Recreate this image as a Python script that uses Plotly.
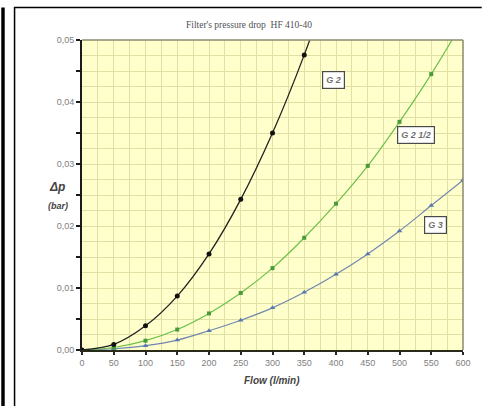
import plotly.graph_objects as go

# Flow rates (l/min) and pressure drop (bar) for the three port sizes
flow_g2 = [0, 50, 100, 150, 200, 250, 300, 350, 400]
dp_g2 = [0.0, 0.0009, 0.0039, 0.0087, 0.0155, 0.0243, 0.0350, 0.0476, 0.0622]

flow_g212 = [0, 50, 100, 150, 200, 250, 300, 350, 400, 450, 500, 550, 600]
dp_g212 = [0.0, 0.0004, 0.0015, 0.0033, 0.0059, 0.0092, 0.0132, 0.0181, 0.0236,
           0.0297, 0.0368, 0.0445, 0.0530]

flow_g3 = [0, 50, 100, 150, 200, 250, 300, 350, 400, 450, 500, 550, 600]
dp_g3 = [0.0, 0.0002, 0.0007, 0.0016, 0.0031, 0.0048, 0.0068, 0.0093, 0.0122,
         0.0155, 0.0192, 0.0233, 0.0274]

x_ticks = list(range(0, 601, 50))
y_tickvals = [0.0, 0.005, 0.01, 0.015, 0.02, 0.025, 0.03, 0.035, 0.04, 0.045, 0.05]
y_ticktext = ["0,00", "", "0,01", "", "0,02", "", "0,03", "", "0,04", "", "0,05"]

series_labels = ["G 2", "G 2 1/2", "G 3"]

W, H = 483, 406
L, R, T, B = 82, 469, 40, 350  # plot area in pixels


def px(x):
    return (x - L) / (R - L)


def py(y):
    return (B - y) / (B - T)


fig = go.Figure()

fig.add_trace(go.Scatter(
    x=flow_g3, y=dp_g3, mode="lines+markers", line_shape="spline",
    line=dict(color="#7088b0", width=1.2),
    marker=dict(symbol="triangle-up", size=5, color="#5a78b0"),
    showlegend=False))
fig.add_trace(go.Scatter(
    x=flow_g212, y=dp_g212, mode="lines+markers", line_shape="spline",
    line=dict(color="#6cc04a", width=1.2),
    marker=dict(symbol="square", size=4, color="#4a9a3a"),
    showlegend=False))
fig.add_trace(go.Scatter(
    x=flow_g2, y=dp_g2, mode="lines+markers", line_shape="spline",
    line=dict(color="#222222", width=1.3),
    marker=dict(symbol="circle", size=5, color="#111111"),
    showlegend=False))

grid = "#e0e0a4"
fig.update_xaxes(
    range=[0, 600], tickvals=x_ticks, ticktext=[str(v) for v in x_ticks],
    showgrid=True, gridcolor=grid, gridwidth=1,
    minor=dict(dtick=25, tick0=0, showgrid=True, gridcolor=grid, ticks=""),
    showline=True, linecolor="#2a2a1a", linewidth=2,
    ticks="outside", ticklen=3, tickcolor="#2a2a1a", tickwidth=2,
    tickfont=dict(family="Liberation Sans", size=9, color="#808080"),
    zeroline=False, fixedrange=True)
fig.update_yaxes(
    range=[0, 0.05], tickvals=y_tickvals, ticktext=y_ticktext,
    showgrid=True, gridcolor=grid, gridwidth=1,
    minor=dict(dtick=0.0025, tick0=0, showgrid=True, gridcolor=grid, ticks=""),
    showline=True, linecolor="#1a1a1a", linewidth=2,
    ticks="outside", ticklen=4, tickcolor="#1a1a1a", tickwidth=1.5,
    tickfont=dict(family="Liberation Sans", size=9, color="#808080"),
    zeroline=False, fixedrange=True)

shapes = [
    # plot area border on top and right
    dict(type="line", xref="paper", yref="paper", x0=0, x1=1, y0=1, y1=1,
         line=dict(color="#8a8a70", width=1.5)),
    dict(type="line", xref="paper", yref="paper", x0=1, x1=1, y0=0, y1=1,
         line=dict(color="#8a8a70", width=1.5)),
    # outer frame
    dict(type="rect", xref="paper", yref="paper", x0=px(0), x1=px(3.5),
         y0=py(H + 5), y1=py(7.5), fillcolor="#000000", line=dict(width=0)),
    dict(type="line", xref="paper", yref="paper", x0=px(13.5), x1=px(13.5),
         y0=py(H + 5), y1=py(7), line=dict(color="#000000", width=1.5)),
    dict(type="line", xref="paper", yref="paper", x0=px(13), x1=px(W + 5),
         y0=py(7.5), y1=py(7.5), line=dict(color="#000000", width=1.5)),
]

annotations = [
    dict(text="Filter's pressure drop  HF 410-40", xref="paper", yref="paper",
         x=px(252), y=py(18), showarrow=False,
         font=dict(family="Liberation Serif", size=9.5, color="#505050")),
    dict(text="<b><i>Flow (l/min)</i></b>", xref="paper", yref="paper",
         x=px(275), y=py(388), showarrow=False,
         font=dict(family="Liberation Sans", size=10, color="#444444")),
    dict(text="<b><i>Δp</i></b>", xref="paper", yref="paper",
         x=px(46), y=py(187), showarrow=False,
         font=dict(family="Liberation Sans", size=12, color="#444444")),
    dict(text="<b><i>(bar)</i></b>", xref="paper", yref="paper",
         x=px(45), y=py(206), showarrow=False,
         font=dict(family="Liberation Sans", size=9, color="#444444")),
]

label_pos = [(337, 71), (441, 126), (453, 225)]
for text, (lx, ly) in zip(series_labels, label_pos):
    annotations.append(dict(
        text="<b><i>" + text + "</i></b>", xref="paper", yref="paper",
        x=px(lx), y=py(ly), showarrow=False,
        font=dict(family="Liberation Sans", size=9, color="#707070"),
        bgcolor="#ffffff", bordercolor="#4a4a4a", borderwidth=1.2, borderpad=3))

fig.update_layout(
    width=W, height=H,
    margin=dict(l=L, r=W - R, t=T, b=H - B),
    paper_bgcolor="#ffffff", plot_bgcolor="#ffffcc",
    shapes=shapes, annotations=annotations,
    showlegend=False)

fig.write_html("out.html", config={"displayModeBar": False})
